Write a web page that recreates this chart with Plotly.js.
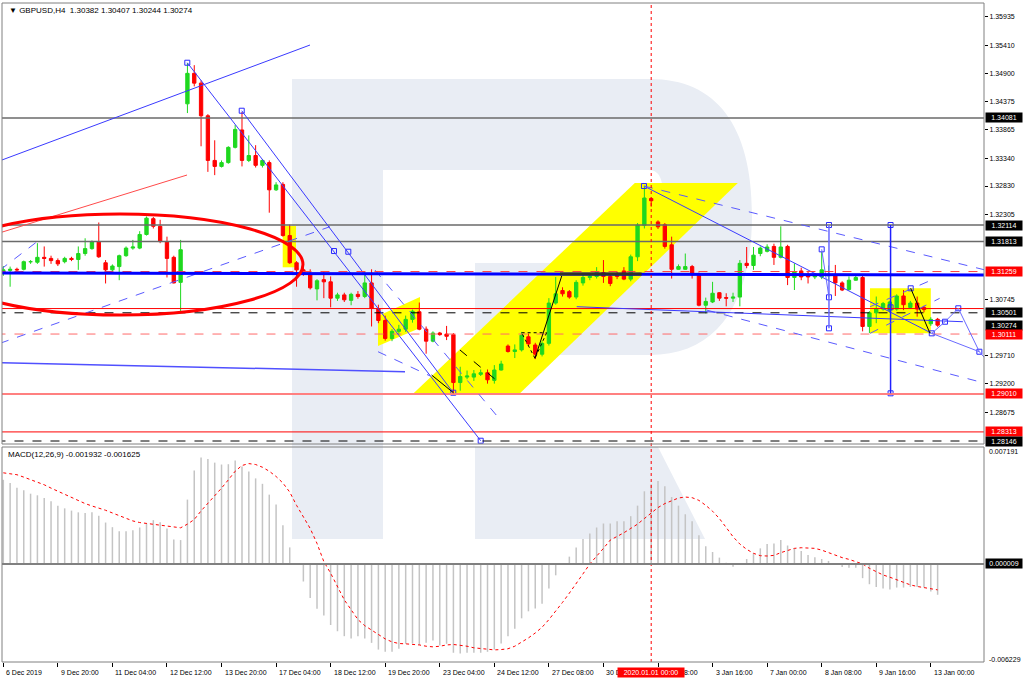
<!DOCTYPE html>
<html><head><meta charset="utf-8">
<script src="https://cdn.plot.ly/plotly-3.0.1.min.js"></script>
<style>html,body{margin:0;padding:0;background:#fff;}#chart{width:1024px;height:683px;}</style>
</head><body><div id="chart"></div>
<script>
// ---- GBPUSD H4 candles (bar index 0 = 6 Dec 2019) ----
const open = [1.3123,1.3128,1.3130,1.3130,1.3144,1.3143,1.3152,1.3150,1.3146,1.3144,
1.3150,1.3148,1.3159,1.3168,1.3180,1.3142,1.3129,1.3135,1.3155,1.3169,
1.3169,1.3194,1.3223,1.3209,1.3181,1.3152,1.3106,1.3434,1.3490,1.3472,
1.3412,1.3330,1.3319,1.3326,1.3354,1.3386,1.3330,1.3339,1.3321,1.3326,
1.3276,1.3286,1.3192,1.3142,1.3129,1.3122,1.3094,1.3111,1.3107,1.3077,
1.3083,1.3073,1.3084,1.3080,1.3105,1.3058,1.3036,1.3003,1.3016,1.3020,
1.3038,1.3052,1.3020,1.2998,1.3013,1.3011,1.3010,1.2922,1.2932,1.2932,
1.2937,1.2940,1.2926,1.2945,1.2989,1.2979,1.2982,1.3006,1.2991,1.2974,
1.2994,1.3068,1.3091,1.3089,1.3079,1.3105,1.3115,1.3117,1.3124,1.3117,
1.3122,1.3127,1.3112,1.3153,1.3211,1.3260,1.3217,1.3212,1.3175,1.3130,
1.3130,1.3135,1.3120,1.3064,1.3070,1.3087,1.3078,1.3077,1.3079,1.3141,
1.3137,1.3159,1.3163,1.3172,1.3152,1.3172,1.3115,1.3127,1.3120,1.3116,
1.3116,1.3118,1.3120,1.3105,1.3093,1.3110,1.3115,1.3025,1.3050,1.3057,
1.3055,1.3057,1.3081,1.3060,1.3068,1.3060,1.3030,1.30382];
const high = [1.3136,1.3135,1.3133,1.3146,1.3147,1.3178,1.3172,1.3155,1.3150,1.3153,
1.3153,1.3172,1.3187,1.3183,1.3216,1.3147,1.3139,1.3157,1.3172,1.3184,
1.3200,1.3227,1.3226,1.3221,1.3190,1.3155,1.3184,1.3509,1.3505,1.3477,
1.3415,1.3367,1.3330,1.3356,1.3395,1.3419,1.3376,1.3358,1.3332,1.3330,
1.3290,1.3290,1.3212,1.3145,1.3134,1.3130,1.3112,1.3125,1.3117,1.3087,
1.3087,1.3087,1.3090,1.3125,1.3130,1.3065,1.3045,1.3020,1.3028,1.3045,
1.3056,1.3069,1.3025,1.3016,1.3015,1.3026,1.3013,1.2951,1.2944,1.2945,
1.2946,1.2946,1.2954,1.2962,1.2992,1.2992,1.3015,1.3012,1.2995,1.2998,
1.3077,1.3116,1.3097,1.3092,1.3110,1.3122,1.3122,1.3134,1.3147,1.3122,
1.3125,1.3134,1.3157,1.3215,1.3283,1.3262,1.3220,1.3215,1.3190,1.3139,
1.3159,1.3138,1.3124,1.3078,1.3107,1.3088,1.3086,1.3087,1.3147,1.3171,
1.3171,1.3172,1.3176,1.3177,1.3209,1.3175,1.3141,1.3133,1.3126,1.3123,
1.3162,1.3137,1.3138,1.3108,1.3117,1.3120,1.3118,1.3053,1.3080,1.3070,
1.3072,1.3084,1.3092,1.3072,1.3080,1.3063,1.3042,1.30407];
const low = [1.3118,1.3098,1.3126,1.3128,1.3140,1.3140,1.3135,1.3140,1.3136,1.3141,
1.3145,1.3129,1.3155,1.3166,1.3151,1.3104,1.3127,1.3110,1.3153,1.3166,
1.3167,1.3192,1.3205,1.3178,1.3115,1.3104,1.3053,1.3417,1.3466,1.3356,
1.3309,1.3303,1.3317,1.3324,1.3352,1.3319,1.3327,1.3317,1.3317,1.3234,
1.3274,1.3190,1.3140,1.3098,1.3118,1.3093,1.3073,1.3077,1.3060,1.3072,
1.3070,1.3064,1.3076,1.3077,1.3025,1.3031,1.2999,1.2998,1.3010,1.3015,
1.3032,1.3018,1.2975,1.2996,1.3008,1.3000,1.2903,1.2907,1.2928,1.2925,
1.2934,1.2920,1.2920,1.2944,1.2977,1.2967,1.2979,1.2989,1.2965,1.2970,
1.2990,1.3065,1.3080,1.3076,1.3075,1.3100,1.3110,1.3113,1.3105,1.3099,
1.3112,1.3110,1.3108,1.3145,1.3205,1.3245,1.3204,1.3168,1.3113,1.3129,
1.3129,1.3113,1.3062,1.3049,1.3068,1.3072,1.3062,1.3070,1.3062,1.3132,
1.3129,1.3154,1.3161,1.3138,1.3150,1.3101,1.3092,1.3110,1.3104,1.3112,
1.3112,1.3108,1.3081,1.3090,1.3091,1.3109,1.3016,1.3013,1.3031,1.3054,
1.3050,1.3054,1.3055,1.3057,1.3043,1.3051,1.3026,1.30244];
const close = [1.3129,1.3130,1.3129,1.3144,1.3144,1.3152,1.3150,1.3146,1.3140,1.3150,
1.3148,1.3159,1.3168,1.3180,1.3153,1.3129,1.3136,1.3155,1.3169,1.3171,
1.3194,1.3224,1.3209,1.3181,1.3150,1.3105,1.3166,1.3490,1.3472,1.3412,
1.3330,1.3319,1.3326,1.3354,1.3387,1.3330,1.3339,1.3321,1.3330,1.3276,
1.3285,1.3192,1.3142,1.3129,1.3124,1.3096,1.3109,1.3107,1.3077,1.3083,
1.3074,1.3084,1.3080,1.3105,1.3058,1.3036,1.3003,1.3016,1.3020,1.3038,
1.3053,1.3020,1.2998,1.3013,1.3010,1.3007,1.2922,1.2933,1.2934,1.2938,
1.2940,1.2927,1.2945,1.2956,1.2979,1.2982,1.3009,1.2993,1.2974,1.2994,
1.3068,1.3085,1.3085,1.3079,1.3106,1.3115,1.3117,1.3124,1.3117,1.3104,
1.3117,1.3112,1.3153,1.3211,1.3261,1.3256,1.3208,1.3172,1.3130,1.3135,
1.3135,1.3120,1.3064,1.3071,1.3086,1.3077,1.3077,1.3079,1.3141,1.3137,
1.3156,1.3169,1.3171,1.3152,1.3171,1.3115,1.3126,1.3116,1.3116,1.3120,
1.3129,1.3121,1.3105,1.3092,1.3110,1.3115,1.3025,1.3050,1.3058,1.3067,
1.3070,1.3081,1.3065,1.3068,1.3057,1.3056,1.3038,1.30274];

// ---- MACD(12,26,9) ----
const macdHist = [0.00528,0.00508,0.00478,0.00462,0.00441,0.00431,0.00414,0.00393,0.00366,0.00349,
0.00335,0.00324,0.00320,0.00324,0.00302,0.00260,0.00231,0.00206,0.00206,0.00212,
0.00229,0.00254,0.00275,0.00262,0.00223,0.00154,0.00150,0.00404,0.00587,0.00668,
0.00659,0.00636,0.00624,0.00626,0.00649,0.00612,0.00580,0.00537,0.00503,0.00435,
0.00374,0.00243,0.00104,-0.00006,-0.00110,-0.00214,-0.00281,-0.00324,-0.00383,-0.00422,
-0.00453,-0.00468,-0.00453,-0.00468,-0.00495,-0.00537,-0.00551,-0.00551,-0.00532,-0.00501,
-0.00499,-0.00508,-0.00495,-0.00480,-0.00512,-0.00501,-0.00557,-0.00562,-0.00557,-0.00557,
-0.00557,-0.00551,-0.00537,-0.00499,-0.00453,-0.00406,-0.00341,-0.00297,-0.00279,-0.00250,
-0.00154,-0.00071,0.00003,0.00046,0.00104,0.00156,0.00191,0.00229,0.00254,0.00254,
0.00268,0.00268,0.00300,0.00366,0.00456,0.00500,0.00520,0.00487,0.00420,0.00366,
0.00312,0.00268,0.00181,0.00112,0.00075,0.00040,0.00008,-0.00017,0.00004,0.00031,
0.00067,0.00098,0.00125,0.00129,0.00150,0.00116,0.00098,0.00081,0.00056,0.00042,
0.00031,0.00019,0.00000,-0.00019,-0.00023,-0.00023,-0.00089,-0.00127,-0.00144,-0.00154,
-0.00160,-0.00148,-0.00148,-0.00144,-0.00144,-0.00148,-0.00173,-0.001932];
const macdSignal = [0.00572,0.00568,0.00560,0.00545,0.00530,0.00516,0.00497,0.00476,0.00456,0.00435,
0.00414,0.00395,0.00379,0.00364,0.00352,0.00337,0.00320,0.00302,0.00285,0.00270,
0.00260,0.00254,0.00248,0.00241,0.00237,0.00229,0.00227,0.00250,0.00279,0.00333,
0.00379,0.00431,0.00476,0.00528,0.00582,0.00618,0.00630,0.00624,0.00607,0.00582,
0.00549,0.00508,0.00451,0.00368,0.00295,0.00223,0.00129,0.00015,-0.00058,-0.00141,
-0.00225,-0.00287,-0.00349,-0.00387,-0.00416,-0.00443,-0.00470,-0.00489,-0.00499,-0.00501,
-0.00503,-0.00508,-0.00516,-0.00520,-0.00516,-0.00508,-0.00505,-0.00510,-0.00516,-0.00526,
-0.00530,-0.00537,-0.00539,-0.00537,-0.00532,-0.00516,-0.00491,-0.00464,-0.00433,-0.00397,
-0.00349,-0.00297,-0.00241,-0.00183,-0.00125,-0.00062,0.00000,0.00046,0.00098,0.00150,
0.00171,0.00196,0.00223,0.00250,0.00285,0.00320,0.00354,0.00379,0.00399,0.00414,
0.00420,0.00416,0.00399,0.00368,0.00331,0.00285,0.00229,0.00171,0.00125,0.00092,
0.00067,0.00052,0.00050,0.00054,0.00071,0.00087,0.00098,0.00102,0.00102,0.00098,
0.00087,0.00071,0.00052,0.00040,0.00029,0.00015,0.00000,-0.00027,-0.00048,-0.00069,
-0.00083,-0.00100,-0.00116,-0.00131,-0.00141,-0.00148,-0.00156,-0.001625];

// ---- axis labels ----
const timeTickBars = [0,8,16,24,32,40,48,56,64,72,80,88,96,104,112,120,128,136];
const timeTickLabels = ["6 Dec 2019","9 Dec 20:00","11 Dec 04:00","12 Dec 12:00","13 Dec 20:00",
"17 Dec 04:00","18 Dec 12:00","19 Dec 20:00","23 Dec 04:00","24 Dec 12:00","27 Dec 08:00",
"30 Dec 16:00","2 Jan 08:00","3 Jan 16:00","7 Jan 00:00","8 Jan 08:00","9 Jan 16:00","13 Jan 00:00"];
const priceTicks = [1.35935,1.35410,1.34900,1.34375,1.33865,1.33340,1.32830,1.32305,1.30745,1.29710,1.29200,1.28675];
const levelPrices = [1.34081,1.32114,1.31813,1.31259,1.30501,1.30274,1.30111,1.29010,1.28313,1.28146];
const levelBoxColors = ['#000','#000','#000','#f00','#000','#000','#f00','#f00','#f00','#000'];
const newYearBar = 95;

// ---- drawing anchor points (bar index, price) ----
const anchorBar = [26.98,34.96,70.0,65.98,48.49,50.59,93.94,121.07,120.0,121.07,121.07,130.1,130.1,133.05,136.14,138.08,140.03,143.12,130.1];
const anchorPrice = [1.35095,1.34213,1.28151,1.29033,1.31636,1.31623,1.32830,1.32114,1.31667,1.30786,1.30216,1.32114,1.29022,1.30951,1.30124,1.30337,1.30584,1.29786,1.30602];

const bars = open.map((_, i) => i);
const F = 'Liberation Sans, Arial, DejaVu Sans, sans-serif';
const X = px => (px - 2) / 982;     // pixel -> paper (decoration only)
const Y = py => (662 - py) / 659;

const shapes = [];
// watermark "R"
const WM = '#e9edf4';
shapes.push({type:'rect',xref:'paper',yref:'paper',x0:X(292),x1:X(383),y0:Y(539),y1:Y(79),fillcolor:WM,line:{width:0},layer:'below'});
shapes.push({type:'path',xref:'paper',yref:'paper',layer:'below',fillcolor:WM,line:{width:0},
  path:`M ${X(383)},${Y(79)} L ${X(650)},${Y(79)} C ${X(716)},${Y(79)} ${X(752)},${Y(125)} ${X(752)},${Y(215)} C ${X(752)},${Y(305)} ${X(716)},${Y(355)} ${X(650)},${Y(355)} L ${X(475)},${Y(355)} L ${X(475)},${Y(263)} L ${X(648)},${Y(263)} C ${X(662)},${Y(263)} ${X(664)},${Y(250)} ${X(664)},${Y(216)} C ${X(664)},${Y(182)} ${X(662)},${Y(170)} ${X(648)},${Y(170)} L ${X(383)},${Y(170)} Z`});
shapes.push({type:'path',xref:'paper',yref:'paper',layer:'below',fillcolor:WM,line:{width:0},
  path:`M ${X(475)},${Y(447)} L ${X(658)},${Y(447)} L ${X(705)},${Y(539)} L ${X(475)},${Y(539)} Z`});

// yellow areas
const YEL = '#ffff00';
const poly = pts => 'M ' + pts.map(p => p[0] + ',' + p[1]).join(' L ') + ' Z';
shapes.push({type:'path',xref:'x',yref:'y',layer:'below',fillcolor:YEL,line:{width:0},
  path: poly([[60.2,1.29028],[75.8,1.29028],[107.7,1.32885],[92.6,1.32885]])});
shapes.push({type:'rect',xref:'x',yref:'y',layer:'below',fillcolor:YEL,line:{width:0},x0:40.97,x1:42.92,y0:1.31337,y1:1.32095});
shapes.push({type:'path',xref:'x',yref:'y',layer:'below',fillcolor:YEL,line:{width:0},
  path: poly([[54.94,1.29891],[54.94,1.30442],[61.1,1.30791],[61.1,1.30222]])});
shapes.push({type:'rect',xref:'x',yref:'y',layer:'below',fillcolor:YEL,line:{width:0},x0:127.08,x1:136.0,y0:1.30124,y1:1.30951});

// horizontal levels
function hl(p, color, width, dash){ shapes.push({type:'line',xref:'x',yref:'y',x0:-1,x1:145,y0:p,y1:p,line:{color,width,dash:dash||'solid'}}); }
hl(1.34081,'#6a6a6a',1.5); hl(1.32114,'#6a6a6a',1.5); hl(1.31813,'#6a6a6a',1.5);
hl(1.30579,'#ff0000',1); hl(1.30501,'#000000',1,'dash'); hl(1.30111,'#ff6a6a',1,'dash');
hl(1.29010,'#ff8080',2); hl(1.28313,'#ff0000',1); hl(1.28146,'#000000',1,'dash');

// trend lines
function seg(a, b, c, d, color, width, dash){ shapes.push({type:'line',xref:'x',yref:'y',x0:a,y0:b,x1:c,y1:d,line:{color,width,dash:dash||'solid'}}); }
const BL = '#3a3aff', BD = '#5a5aff';
seg(-0.48,1.33295,44.97,1.35420,BL,1);
seg(-0.48,1.31972,26.94,1.33032,'#ff4a4a',1);
seg(-0.48,1.29941,47.9,1.32083,BD,1,'dash');
seg(-0.48,1.31287,4.94,1.31807,BD,1,'dash');
seg(26.98,1.35095,70.0,1.28151,BL,1);
seg(34.96,1.34213,65.98,1.29033,BL,1);
seg(-0.48,1.29584,58.9,1.29419,'#5050ff',1.5);
seg(54.5,1.31287,73.1,1.28500,BD,1,'dash');
seg(54.95,1.29786,62.6,1.29340,BD,1,'dash');
seg(62.8,1.29358,66.0,1.29033,'#000',1);
seg(66.96,1.29818,72.83,1.29206,'#000',1,'dash');
seg(76.0,1.30135,79.67,1.30135,'#000',1,'dot');
seg(79.67,1.30135,77.96,1.29665,'#000',1,'dot');
seg(77.96,1.29665,76.0,1.30135,'#000',1,'dot');
seg(77.96,1.29665,81.88,1.31177,'#000',1);
seg(93.94,1.32830,136.14,1.30124,BL,1);
seg(93.94,1.32830,144,1.31287,BD,1,'dash');
seg(103.1,1.30552,144,1.29206,BD,1,'dash');
seg(84.08,1.30613,140.7,1.30337,BL,1);
seg(121.07,1.32114,121.07,1.30216,'#6a6aff',1.5);
seg(120.0,1.31667,121.07,1.30786,'#6a6aff',1);
seg(130.1,1.32114,130.1,1.29022,'#2020ff',1.5);
seg(127.1,1.30613,136.1,1.31103,BD,1,'dash');
seg(127.1,1.30124,137.3,1.30767,BD,1,'dash');
seg(133.05,1.30951,135.88,1.30124,'#000',1);
seg(136.14,1.30124,138.08,1.30337,'#6a6aff',1);
seg(138.08,1.30337,140.03,1.30584,'#6a6aff',1);
seg(140.03,1.30584,143.12,1.29786,'#6a6aff',1);
seg(143.12,1.29786,144,1.29660,'#6a6aff',1);
seg(136.14,1.30124,143.12,1.29786,'#6a6aff',1);
// thick lines
hl(1.31259,'#ff4040',1,'dash');
seg(-0.48,1.31232,144,1.31195,'#0000ff',3);
seg(81.63,1.31214,93.6,1.31214,'#303030',3);
// ellipse
shapes.push({type:'circle',xref:'x',yref:'y',x0:-9.72,x1:43.94,y0:1.30460,y1:1.32316,line:{color:'#ff0000',width:3}});
// new-year separator
shapes.push({type:'line',xref:'x',yref:'paper',x0:newYearBar,x1:newYearBar,y0:0,y1:1,line:{color:'#ff0000',width:1,dash:'dot'}});
// MACD zero line
shapes.push({type:'line',xref:'paper',yref:'y2',x0:0,x1:1,y0:0,y1:0,line:{color:'#808080',width:2}});
// panel frames
shapes.push({type:'rect',xref:'paper',yref:'paper',x0:0,x1:1,y0:Y(444),y1:1,line:{color:'#808080',width:1}});
shapes.push({type:'rect',xref:'paper',yref:'paper',x0:0,x1:1,y0:0,y1:Y(447),line:{color:'#808080',width:1}});

// annotations
const annotations = [];
annotations.push({xref:'paper',yref:'paper',x:0,y:1,xanchor:'left',yanchor:'top',xshift:5,yshift:-1,showarrow:false,
  text:'\u25BC GBPUSD,H4\u00a0\u00a01.30382 1.30407 1.30244 1.30274',font:{family:F,size:8,color:'#000'}});
annotations.push({xref:'paper',yref:'paper',x:0,y:Y(447),xanchor:'left',yanchor:'top',xshift:4,yshift:-1,showarrow:false,
  text:'MACD(12,26,9) -0.001932 -0.001625',font:{family:F,size:8,color:'#000'}});
levelPrices.forEach((p, i) => annotations.push({xref:'paper',yref:'y',x:1,y:p,xanchor:'left',yanchor:'middle',xshift:1,showarrow:false,
  text:p.toFixed(5),bgcolor:levelBoxColors[i],font:{family:F,size:7,color:'#fff'},width:36,height:9,borderpad:0,align:'center'}));
annotations.push({xref:'paper',yref:'paper',x:1,y:Y(451),xanchor:'left',yanchor:'middle',xshift:3,showarrow:false,text:'0.007191',font:{family:F,size:7,color:'#000'}});
annotations.push({xref:'paper',yref:'paper',x:1,y:Y(659),xanchor:'left',yanchor:'middle',xshift:3,showarrow:false,text:'-0.006229',font:{family:F,size:7,color:'#000'}});
annotations.push({xref:'paper',yref:'y2',x:1,y:0.000009,xanchor:'left',yanchor:'middle',xshift:1,showarrow:false,
  text:'0.000009',bgcolor:'#000',font:{family:F,size:7,color:'#fff'},width:36,height:9,borderpad:0,align:'center'});
timeTickBars.forEach((b, i) => annotations.push({xref:'x',yref:'paper',x:b,y:0,xanchor:'left',yanchor:'top',xshift:1,yshift:-5,showarrow:false,
  text:timeTickLabels[i],font:{family:F,size:7,color:'#000'}}));
annotations.push({xref:'x',yref:'paper',x:newYearBar,y:0,xanchor:'center',yanchor:'top',yshift:-5,showarrow:false,
  text:'2020.01.01 00:00',bgcolor:'#ff0000',font:{family:F,size:7,color:'#fff'},width:66,height:9,borderpad:0,align:'center'});

const traces = [
  {type:'candlestick',x:bars,open:open,high:high,low:low,close:close,xaxis:'x',yaxis:'y',
   increasing:{line:{color:'#1fd81f',width:1},fillcolor:'#1fd81f'},
   decreasing:{line:{color:'#ff0000',width:1},fillcolor:'#ff0000'},
   whiskerwidth:0,hoverinfo:'skip',showlegend:false},
  {type:'bar',x:bars,y:macdHist,xaxis:'x',yaxis:'y2',width:0.22,marker:{color:'#c4c4c4',line:{width:0}},hoverinfo:'skip',showlegend:false},
  {type:'scatter',mode:'lines',x:bars,y:macdSignal,xaxis:'x',yaxis:'y2',line:{color:'#ff0000',width:1,dash:'dot'},hoverinfo:'skip',showlegend:false},
  {type:'scatter',mode:'markers',x:anchorBar,y:anchorPrice,xaxis:'x',yaxis:'y',
   marker:{symbol:'square-open',size:5,color:'#2a2aff',line:{width:1}},hoverinfo:'skip',showlegend:false,cliponaxis:true}
];

const layout = {
  width:1024,height:683,margin:{l:2,r:40,t:3,b:21},
  paper_bgcolor:'#ffffff',plot_bgcolor:'rgba(0,0,0,0)',showlegend:false,
  font:{family:F,size:7,color:'#000'},
  xaxis:{range:[-0.19,143.8],anchor:'y2',tickvals:timeTickBars,showticklabels:false,ticks:'outside',ticklen:4,tickcolor:'#000',
         showgrid:false,zeroline:false,showline:false,rangeslider:{visible:false},fixedrange:true},
  yaxis:{domain:[Y(444),1],range:[1.28091,1.36192],side:'right',anchor:'x',tickvals:priceTicks,tickformat:'.5f',
         ticks:'outside',ticklen:3,tickcolor:'#000',tickfont:{family:F,size:7,color:'#000'},
         showgrid:false,zeroline:false,showline:false,fixedrange:true},
  yaxis2:{domain:[0,Y(447)],range:[-0.00615,0.00734],side:'right',anchor:'x',tickvals:[],
          showgrid:false,zeroline:false,showline:false,fixedrange:true},
  shapes:shapes,annotations:annotations
};
Plotly.newPlot('chart', traces, layout, {staticPlot:true,displayModeBar:false});
</script></body></html>
